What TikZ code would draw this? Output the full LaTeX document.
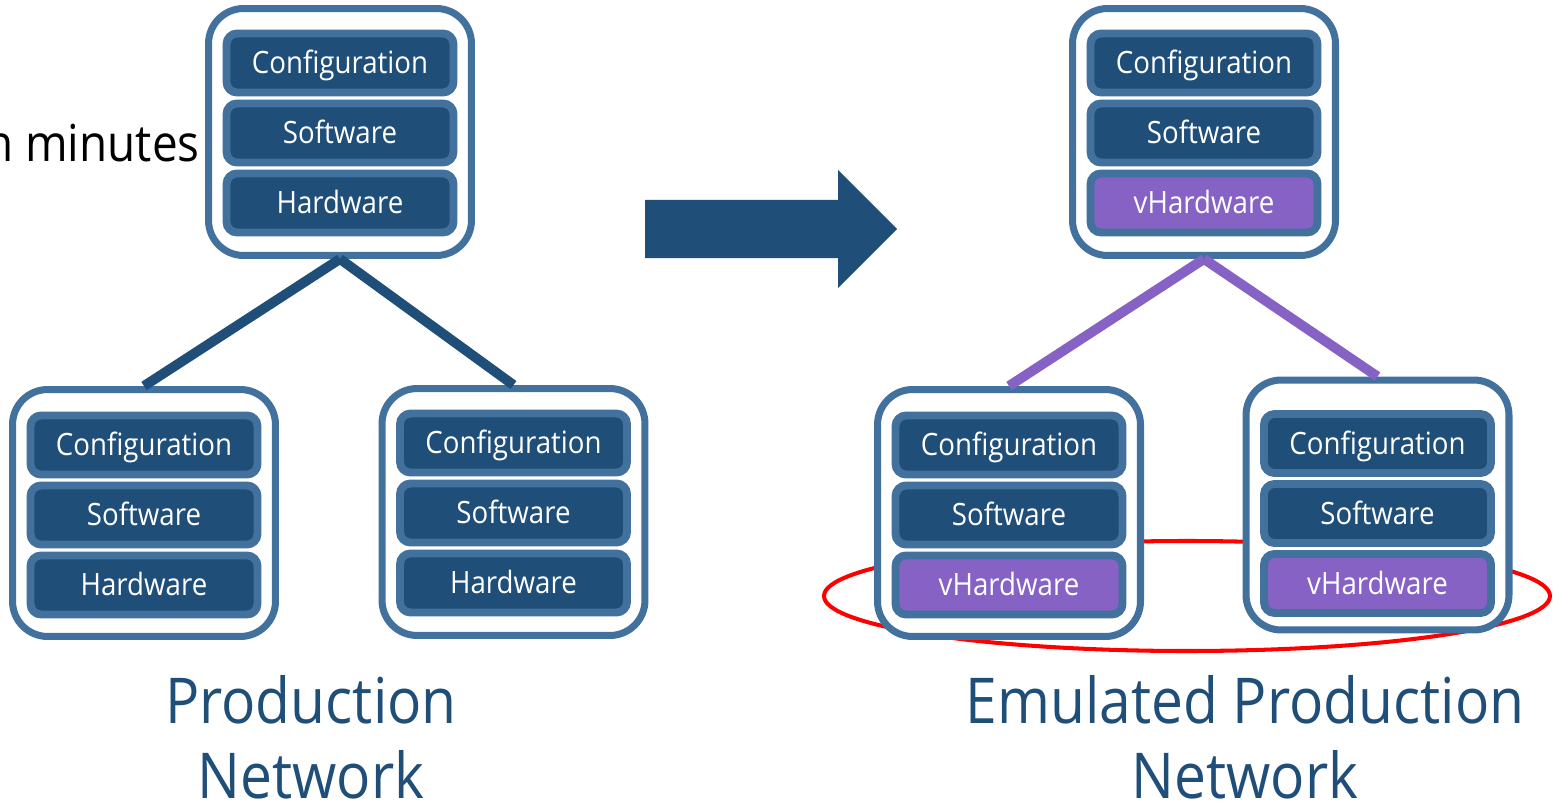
\documentclass[tikz,border=0pt]{standalone}
\usepackage{fontspec}
\setmainfont{Open Sans}[FakeStretch=0.9]
\usepackage{tikz}
\usetikzlibrary{positioning}
\definecolor{navy}{RGB}{31,78,121}
\definecolor{edgeblue}{RGB}{65,113,156}
\definecolor{vpurple}{RGB}{134,98,196}
\tikzset{
    device/.style  = {rectangle, draw=edgeblue, line width=4pt, fill=white, rounded corners=20pt,
                      inner sep=0pt, minimum width=5.26cm, minimum height=4.94cm},
    layer/.style   = {rectangle, draw=edgeblue, line width=4.5pt, fill=navy, rounded corners=6pt,
                      inner sep=0pt, outer sep=0pt, minimum width=4.54cm, minimum height=1.18cm,
                      text height=12.5pt, text depth=0pt,
                      text=white, font=\fontsize{17.5pt}{19pt}\selectfont},
    vlayer/.style  = {layer, fill=vpurple},
    link/.style    = {line width=5.6pt, draw=navy},
    vlink/.style   = {line width=5.6pt, draw=vpurple},
    title/.style   = {align=center, inner sep=0pt, text=navy,
                      font=\fontsize{36pt}{42.7pt}\selectfont}
}

\begin{document}
\begin{tikzpicture}[x=0.02cm, y=0.02cm,
        bigarrow/.style = {fill=navy},
        ring/.style = {draw=red, line width=2.3pt}
    ]
    \useasboundingbox (0,0) rectangle (1555,806);

    % Text cut off at the left
    \node[anchor=base east, inner sep=0pt, font=\fontsize{29pt}{30pt}\selectfont] (minutes) at (200,644) {n minutes};

    % Red ring behind the emulated devices
    \draw[ring] (1187,210) ellipse [x radius=363, y radius=55];

    % Production network
    \node[device] (ptop) at (340,674) {};
    \node[layer] (ptop-sw) at (340,673) {Software};
    \node[layer, above=0.22cm of ptop-sw] (ptop-cfg) {Configuration};
    \node[layer, below=0.22cm of ptop-sw] (ptop-hw) {Hardware};

    \node[device] (pleft) at (144,293) {};
    \node[layer] (pleft-sw) at (144,291) {Software};
    \node[layer, above=0.22cm of pleft-sw] (pleft-cfg) {Configuration};
    \node[layer, below=0.22cm of pleft-sw] (pleft-hw) {Hardware};

    \node[device] (pright) at (513.5,294) {};
    \node[layer] (pright-sw) at (513.5,293) {Software};
    \node[layer, above=0.22cm of pright-sw] (pright-cfg) {Configuration};
    \node[layer, below=0.22cm of pright-sw] (pright-hw) {Hardware};

    \draw[link] (ptop.south) -- (pleft.north);
    \draw[link] (ptop.south) -- (pright.north);

    % Big arrow
    \fill[bigarrow] (645,606) -- (838,606) -- (838,636) -- (897,577) -- (838,518) -- (838,548) -- (645,548) -- cycle;

    % Emulated network
    \node[device] (etop) at (1204,674) {};
    \node[layer] (etop-sw) at (1204,673) {Software};
    \node[layer, above=0.22cm of etop-sw] (etop-cfg) {Configuration};
    \node[vlayer, below=0.22cm of etop-sw] (etop-hw) {vHardware};

    \node[device] (eleft) at (1009,293) {};
    \node[layer] (eleft-sw) at (1009,291) {Software};
    \node[layer, above=0.22cm of eleft-sw] (eleft-cfg) {Configuration};
    \node[vlayer, below=0.22cm of eleft-sw] (eleft-hw) {vHardware};

    \node[device, minimum height=5.0cm] (eright) at (1377.5,301) {};
    \node[layer] (eright-sw) at (1377.5,292.5) {Software};
    \node[layer, above=0.22cm of eright-sw] (eright-cfg) {Configuration};
    \node[vlayer, below=0.22cm of eright-sw] (eright-hw) {vHardware};

    \draw[vlink] (etop.south) -- (eleft.north);
    \draw[vlink] (etop.south) -- (eright.north);

    % Titles
    \node[title, anchor=north] (plabel) at (311,131) {Production\\Network};
    \node[title, anchor=north] (elabel) at (1245,131) {Emulated Production\\Network};
\end{tikzpicture}
\end{document}
